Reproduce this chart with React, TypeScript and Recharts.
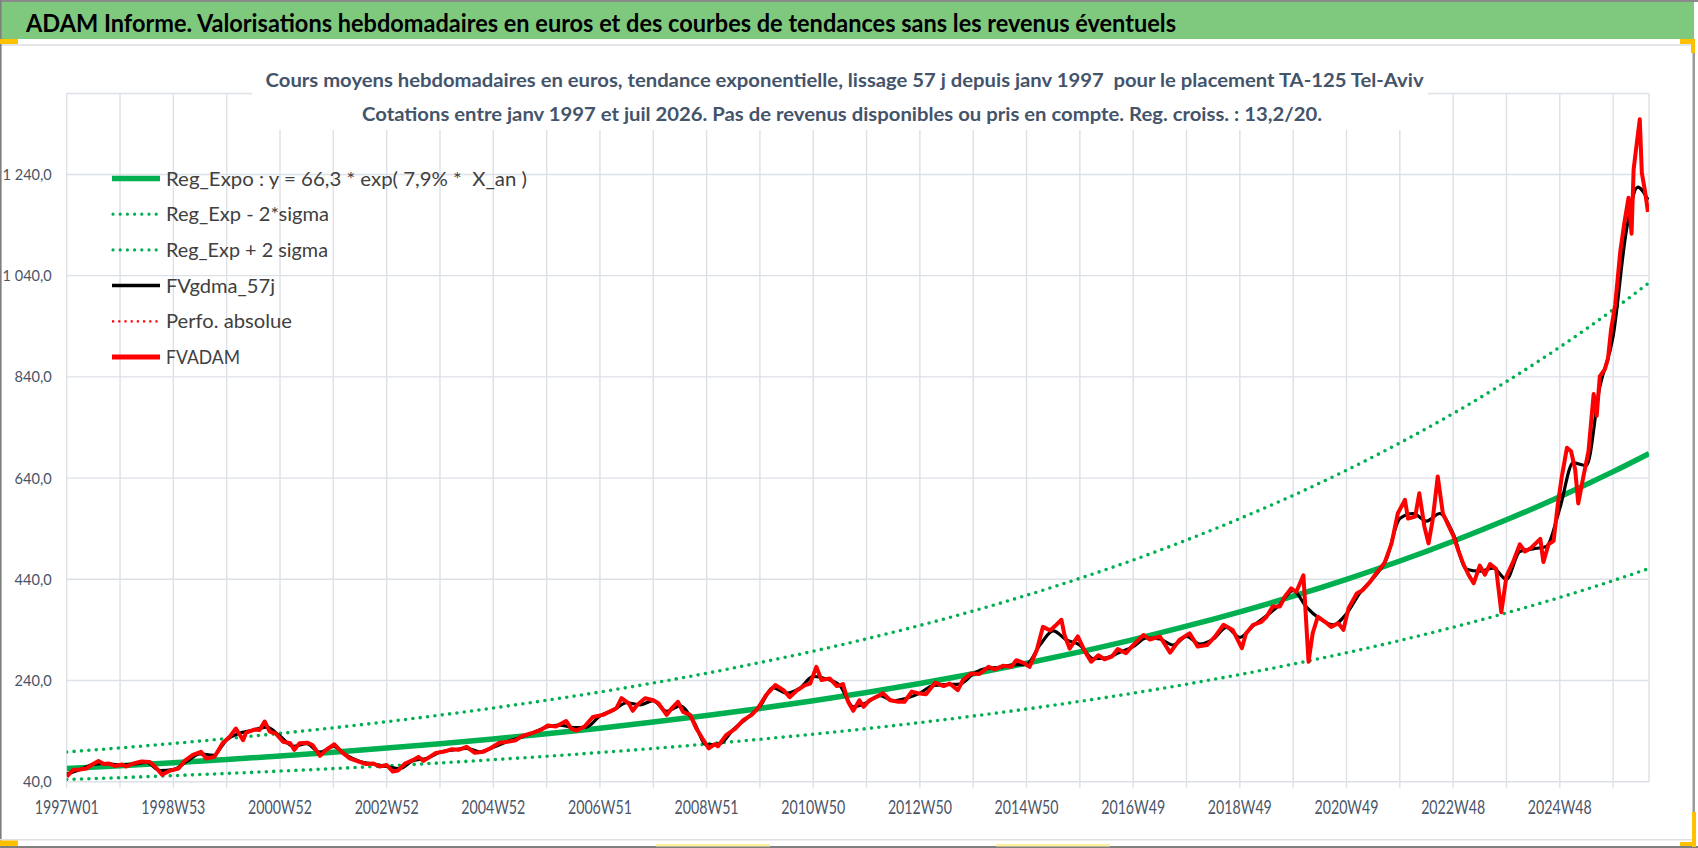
import { LineChart, Line, XAxis, YAxis, CartesianGrid } from "recharts";

const FONT = "Lato, 'Open Sans', 'Liberation Sans', sans-serif";
const GRID = "#DCE0E7";
const AXIS_TEXT = "#4A5568";

// x is the week index from 1997W01 (0) to july 2026 (~1543)
const xLabelWeeks = [0, 104, 208, 312, 416, 520, 624, 728, 832, 936, 1040, 1144, 1248, 1352, 1456];
const xLabels = [
  "1997W01", "1998W53", "2000W52", "2002W52", "2004W52", "2006W51", "2008W51", "2010W50",
  "2012W50", "2014W50", "2016W49", "2018W49", "2020W49", "2022W48", "2024W48",
];
const gridWeeks = Array.from({ length: 30 }, (_, i) => i * 52);

const yTicks = [40, 240, 440, 640, 840, 1040, 1240];
const yTickLabels = ["40,0", "240,0", "440,0", "640,0", "840,0", "1 040,0", "1 240,0"];

// trend curves, one value per year (52 weeks)
const trendWeeks = [
  0, 52, 104, 156, 208, 260, 312, 364, 416, 468, 520, 572, 624, 676, 728, 780,
  832, 884, 936, 988, 1040, 1092, 1144, 1196, 1248, 1300, 1352, 1404, 1456, 1508, 1543,
];
const regExpo = [
  66.3, 71.7, 77.6, 84.0, 90.9, 98.3, 106.4, 115.1, 124.6, 134.8, 145.8, 157.8, 170.7, 184.8, 199.9, 216.3,
  234.1, 253.3, 274.1, 296.6, 320.9, 347.3, 375.8, 406.6, 440.0, 476.1, 515.2, 557.5, 603.2, 652.8, 688.5,
];
const regPlus2Sigma = [
  98.8, 106.8, 115.6, 125.2, 135.4, 146.5, 158.5, 171.5, 185.7, 200.9, 217.2, 235.1, 254.3, 275.4, 297.9, 322.3,
  348.8, 377.4, 408.4, 441.9, 478.1, 517.5, 560.0, 605.8, 655.6, 709.4, 767.6, 830.7, 898.8, 972.7, 1025.9,
];
const regMinus2Sigma = [
  44.4, 48.0, 52.0, 56.3, 60.9, 65.9, 71.3, 77.1, 83.5, 90.3, 97.7, 105.7, 114.4, 123.8, 133.9, 144.9,
  156.8, 169.7, 183.6, 198.7, 215.0, 232.7, 251.8, 272.4, 294.8, 319.0, 345.2, 373.5, 404.1, 437.4, 461.3,
];

// [week, value]
const fvAdam: [number, number][] = [
  [0, 50], [6, 63], [13, 64], [19, 66], [24, 73], [31, 81], [36, 75], [41, 76], [47, 71], [54, 74], [58, 70],
  [65, 76], [73, 80], [81, 79], [86, 70], [93, 54], [101, 62], [109, 66], [115, 81], [123, 93], [131, 99],
  [136, 86], [144, 89], [152, 116], [159, 129], [165, 145], [172, 122], [175, 137], [183, 143], [188, 142],
  [193, 159], [198, 139], [204, 135], [211, 119], [218, 116], [222, 103], [227, 116], [235, 117], [240, 112],
  [247, 91], [253, 103], [261, 114], [268, 99], [276, 86], [284, 80], [292, 75], [299, 76], [305, 70], [312, 73],
  [318, 60], [323, 62], [330, 76], [338, 83], [343, 89], [348, 81], [354, 89], [360, 97], [367, 99], [375, 104],
  [382, 103], [390, 109], [398, 97], [406, 99], [414, 107], [422, 117], [430, 119], [438, 122], [443, 129],
  [450, 134], [455, 137], [463, 143], [469, 151], [477, 149], [487, 160], [492, 145], [497, 141], [505, 149],
  [513, 168], [523, 172], [531, 180], [536, 185], [541, 205], [548, 195], [552, 180], [556, 191], [564, 205],
  [572, 201], [577, 195], [585, 172], [590, 185], [596, 198], [601, 178], [608, 172], [614, 145], [621, 122],
  [626, 106], [632, 114], [635, 110], [643, 132], [652, 145], [660, 162], [668, 172], [674, 185], [682, 211],
  [691, 231], [699, 221], [705, 207], [712, 220], [720, 231], [725, 234], [731, 267], [736, 241], [744, 244],
  [751, 229], [757, 233], [762, 198], [767, 180], [773, 201], [777, 188], [783, 201], [790, 208], [796, 215],
  [803, 201], [811, 198], [817, 198], [824, 218], [830, 215], [838, 213], [847, 236], [855, 229], [861, 234],
  [869, 221], [874, 241], [882, 254], [890, 253], [899, 267], [905, 262], [913, 269], [921, 267], [926, 280],
  [933, 275], [939, 267], [946, 300], [952, 346], [959, 339], [964, 348], [970, 360], [973, 330], [978, 303],
  [986, 327], [993, 297], [999, 277], [1006, 290], [1012, 282], [1019, 287], [1025, 302], [1033, 294],
  [1040, 310], [1050, 330], [1056, 321], [1066, 327], [1076, 295], [1085, 320], [1095, 333], [1103, 307],
  [1112, 310], [1120, 327], [1128, 350], [1137, 340], [1146, 304], [1150, 333], [1157, 350], [1165, 356],
  [1170, 366], [1176, 386], [1183, 386], [1188, 406], [1194, 422], [1199, 415], [1206, 448], [1211, 277],
  [1215, 333], [1220, 366], [1227, 356], [1233, 346], [1240, 353], [1245, 340], [1250, 383], [1258, 412],
  [1264, 419], [1271, 435], [1277, 452], [1285, 472], [1292, 511], [1298, 570], [1305, 597], [1308, 560],
  [1315, 564], [1319, 610], [1324, 544], [1328, 511], [1332, 557], [1337, 643], [1342, 570], [1347, 548],
  [1352, 527], [1357, 497], [1362, 470], [1367, 449], [1372, 432], [1378, 467], [1383, 449], [1388, 470],
  [1394, 460], [1399, 375], [1404, 446], [1411, 477], [1417, 509], [1422, 495], [1428, 502], [1437, 520],
  [1440, 474], [1445, 509], [1450, 516], [1454, 587], [1458, 643], [1463, 700], [1467, 693], [1471, 657],
  [1474, 590], [1479, 643], [1484, 693], [1489, 806], [1492, 763], [1495, 841], [1500, 855], [1503, 876],
  [1506, 933], [1510, 982], [1515, 1088], [1519, 1145], [1523, 1194], [1526, 1123], [1528, 1250], [1531, 1300],
  [1534, 1349], [1536, 1243], [1539, 1208], [1542, 1166],
];

// smoothed 57 days, quarterly readings
const fvGdma57: [number, number][] = [
  [0, 55], [13, 64], [26, 74], [39, 76], [52, 73], [65, 75], [78, 78], [91, 62], [104, 64], [117, 80], [130, 95],
  [143, 92], [156, 123], [169, 136], [182, 142], [195, 148], [208, 130], [221, 110], [234, 115], [247, 98],
  [260, 110], [273, 92], [286, 80], [299, 75], [312, 70], [325, 66], [338, 82], [351, 86], [364, 98], [377, 103],
  [390, 106], [403, 99], [416, 108], [429, 119], [442, 127], [455, 137], [468, 148], [481, 152], [494, 147],
  [507, 148], [520, 170], [533, 181], [546, 196], [559, 192], [572, 200], [585, 179], [598, 190], [611, 160],
  [624, 113], [637, 115], [650, 143], [663, 165], [676, 189], [689, 226], [702, 215], [715, 225], [728, 248],
  [741, 243], [754, 230], [767, 188], [780, 196], [793, 210], [806, 200], [819, 205], [832, 215], [845, 230],
  [858, 232], [871, 233], [884, 253], [897, 264], [910, 266], [923, 271], [936, 272], [949, 310], [962, 338],
  [975, 320], [988, 310], [1001, 283], [1014, 285], [1027, 296], [1040, 307], [1053, 324], [1066, 322],
  [1079, 310], [1092, 327], [1105, 312], [1118, 322], [1131, 345], [1144, 325], [1157, 348], [1170, 368],
  [1183, 390], [1196, 418], [1209, 385], [1222, 362], [1235, 350], [1248, 372], [1261, 413], [1274, 442],
  [1287, 480], [1300, 560], [1313, 570], [1326, 555], [1339, 570], [1352, 530], [1365, 460], [1378, 456],
  [1391, 462], [1404, 440], [1417, 495], [1430, 500], [1443, 505], [1456, 580], [1469, 670], [1482, 665],
  [1495, 820], [1508, 920], [1521, 1130], [1532, 1215], [1542, 1190],
];

const legendItems = [
  { label: "Reg_Expo : y = 66,3 * exp( 7,9% *  X_an )", width: 361, kind: "green" },
  { label: "Reg_Exp - 2*sigma", width: 163, kind: "greenDots" },
  { label: "Reg_Exp + 2 sigma", width: 162, kind: "greenDots" },
  { label: "FVgdma_57j", width: 109, kind: "black" },
  { label: "Perfo. absolue", width: 126, kind: "redDots" },
  { label: "FVADAM", width: 74, kind: "red" },
];

const trendRows = trendWeeks.map((w, i) => ({
  w,
  reg: regExpo[i],
  plus: regPlus2Sigma[i],
  minus: regMinus2Sigma[i],
}));
const adamRows = fvAdam.map(([w, v]) => ({ w, v }));
const gdmaRows = fvGdma57.map(([w, v]) => ({ w, v }));

function yLabelWidth(s: string) {
  let n = 0;
  for (const c of s) n += c === "," ? 3.2 : c === " " ? 3.4 : 8.5;
  return n;
}

const XTick = (props: any) => {
  const i = xLabelWeeks.indexOf(props.payload.value);
  if (i < 0) return <g />;
  return (
    <text
      x={props.x}
      y={814}
      textAnchor="middle"
      fontFamily={FONT}
      fontSize={19}
      fill={AXIS_TEXT}
      textLength={64}
      lengthAdjust="spacingAndGlyphs"
    >
      {xLabels[i]}
    </text>
  );
};

const YTick = (props: any) => {
  const label = yTickLabels[yTicks.indexOf(props.payload.value)] ?? "";
  return (
    <text
      x={51.7}
      y={props.y}
      dy={5.5}
      textAnchor="end"
      fontFamily={FONT}
      fontSize={16}
      fill={AXIS_TEXT}
      textLength={yLabelWidth(label)}
      lengthAdjust="spacingAndGlyphs"
    >
      {label}
    </text>
  );
};

function LegendSample({ kind, y }: { kind: string; y: number }) {
  if (kind === "green")
    return <line x1={112} x2={160} y1={y} y2={y} stroke="#00B050" strokeWidth={5.5} />;
  if (kind === "greenDots")
    return (
      <line x1={113} x2={160} y1={y} y2={y} stroke="#00B050" strokeWidth={3.2}
        strokeDasharray="0 7.2" strokeLinecap="round" />
    );
  if (kind === "black")
    return <line x1={112} x2={160} y1={y} y2={y} stroke="#000" strokeWidth={3.5} />;
  if (kind === "redDots")
    return <line x1={112} x2={160} y1={y} y2={y} stroke="#FF0000" strokeWidth={2.2} strokeDasharray="2.2 4" />;
  return <line x1={112} x2={160} y1={y} y2={y} stroke="#FF0000" strokeWidth={5} />;
}

export default function App() {
  return (
    <div style={{ position: "absolute", left: 0, top: 0, width: 1698, height: 848, background: "#fff", overflow: "hidden" }}>
      {/* frame, title bar and selection handles */}
      <svg width={1698} height={848} style={{ position: "absolute", left: 0, top: 0 }}>
        <rect x={0} y={0} width={1694} height={39} fill="#7FC97F" />
        <rect x={0} y={0} width={1698} height={2} fill="#8A8A8A" />
        <rect x={0} y={44} width={1694} height={2} fill="#E3E6EA" />
        <text x={26} y={32} fontFamily={FONT} fontWeight={700} fontSize={24} fill="#000"
          textLength={1150} lengthAdjust="spacingAndGlyphs">
          ADAM Informe. Valorisations hebdomadaires en euros et des courbes de tendances sans les revenus éventuels
        </text>
        <rect x={0} y={0} width={1.6} height={848} fill="#7F7F7F" />
        <rect x={1692.5} y={39} width={2.5} height={809} fill="#9A9A9A" />
        <rect x={0} y={839} width={1694} height={1.5} fill="#DCDFE4" />
        <rect x={0} y={846} width={1698} height={2} fill="#7F7F7F" />
        <rect x={0} y={39} width={18} height={5} fill="#FFC000" />
        <rect x={1680} y={39} width={15} height={5} fill="#FFC000" />
        <rect x={1691} y={39} width={4} height={14} fill="#FFC000" />
        <rect x={0} y={840.5} width={18} height={5.5} fill="#FFC000" />
        <rect x={1692} y={812} width={4} height={35} fill="#FFC000" />
        <rect x={1680} y={842} width={16} height={4} fill="#FFC000" />
        <rect x={656} y={844} width={114} height={2.5} fill="#FFF0A0" />
        <rect x={996} y={844} width={114} height={2.5} fill="#FFF0A0" />
      </svg>

      <div style={{ position: "absolute", left: 0, top: 0 }}>
        <LineChart width={1698} height={848} margin={{ top: 93.5, right: 49, bottom: 36.3, left: 6.7 }}>
          <CartesianGrid stroke={GRID} strokeWidth={1.4} />
          <XAxis
            dataKey="w"
            type="number"
            domain={[0, 1543]}
            ticks={gridWeeks}
            interval={0}
            allowDataOverflow
            height={30}
            axisLine={false}
            tickLine={{ stroke: GRID, strokeWidth: 1.4 }}
            tickSize={6}
            tick={<XTick />}
          />
          <YAxis
            type="number"
            domain={[40, 1400]}
            ticks={yTicks}
            interval={0}
            allowDataOverflow
            width={60}
            axisLine={false}
            tickLine={false}
            tick={<YTick />}
          />
          <Line data={trendRows} dataKey="plus" type="monotone" stroke="#00B050" strokeWidth={3.6}
            strokeDasharray="0 7.4" strokeLinecap="round" dot={false} isAnimationActive={false} />
          <Line data={trendRows} dataKey="minus" type="monotone" stroke="#00B050" strokeWidth={3.6}
            strokeDasharray="0 7.4" strokeLinecap="round" dot={false} isAnimationActive={false} />
          <Line data={trendRows} dataKey="reg" type="monotone" stroke="#00B050" strokeWidth={5.5}
            dot={false} isAnimationActive={false} />
          <Line data={gdmaRows} dataKey="v" type="monotone" stroke="#000000" strokeWidth={3.2}
            dot={false} isAnimationActive={false} />
          <Line data={adamRows} dataKey="v" type="linear" stroke="#FF0000" strokeWidth={4}
            strokeLinejoin="round" dot={false} isAnimationActive={false} />
        </LineChart>
      </div>

      {/* subtitle box and legend drawn over the plot */}
      <svg width={1698} height={848} style={{ position: "absolute", left: 0, top: 0, pointerEvents: "none" }}>
        <rect x={252} y={60} width={1176} height={70} fill="#fff" />
        <text x={265.6} y={87} fontFamily={FONT} fontWeight={700} fontSize={19.5} fill="#44546A"
          textLength={1158} lengthAdjust="spacingAndGlyphs" style={{ whiteSpace: "pre" }}>
          Cours moyens hebdomadaires en euros, tendance exponentielle, lissage 57 j depuis janv 1997  pour le placement TA-125 Tel-Aviv
        </text>
        <text x={362} y={120.5} fontFamily={FONT} fontWeight={700} fontSize={19.5} fill="#44546A"
          textLength={960} lengthAdjust="spacingAndGlyphs">
          Cotations entre janv 1997 et juil 2026. Pas de revenus disponibles ou pris en compte. Reg. croiss. : 13,2/20.
        </text>
        {legendItems.map((it, i) => {
          const y = 178.5 + i * 35.7;
          return (
            <g key={it.label}>
              <LegendSample kind={it.kind} y={y} />
              <text x={166} y={y} dy={7} fontFamily={FONT} fontSize={20} fill="#404040"
                textLength={it.width} lengthAdjust="spacingAndGlyphs" style={{ whiteSpace: "pre" }}>
                {it.label}
              </text>
            </g>
          );
        })}
      </svg>
    </div>
  );
}
